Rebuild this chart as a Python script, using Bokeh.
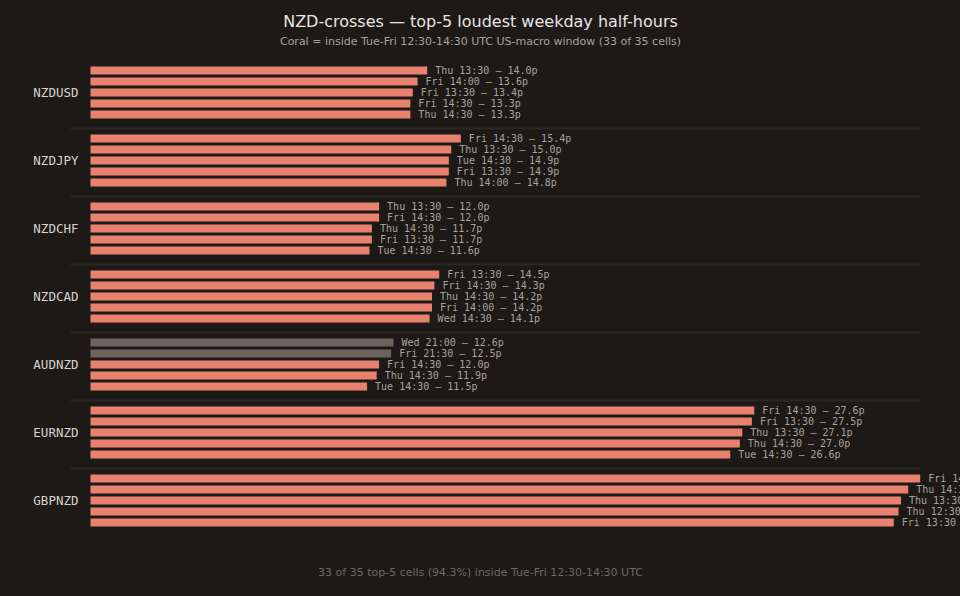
from bokeh.plotting import figure
from bokeh.models import ColumnDataSource, Range1d
from bokeh.core.properties import value
from bokeh.embed import file_html
from bokeh.resources import INLINE

# top-5 loudest weekday half-hours per NZD cross (UTC slot, pips)
pairs = ["NZDUSD", "NZDJPY", "NZDCHF", "NZDCAD", "AUDNZD", "EURNZD", "GBPNZD"]
slots = [
    ["Thu 13:30", "Fri 14:00", "Fri 13:30", "Fri 14:30", "Thu 14:30"],
    ["Fri 14:30", "Thu 13:30", "Tue 14:30", "Fri 13:30", "Thu 14:00"],
    ["Thu 13:30", "Fri 14:30", "Thu 14:30", "Fri 13:30", "Tue 14:30"],
    ["Fri 13:30", "Fri 14:30", "Thu 14:30", "Fri 14:00", "Wed 14:30"],
    ["Wed 21:00", "Fri 21:30", "Fri 14:30", "Thu 14:30", "Tue 14:30"],
    ["Fri 14:30", "Fri 13:30", "Thu 13:30", "Thu 14:30", "Tue 14:30"],
    ["Fri 14:30", "Thu 14:30", "Thu 13:30", "Thu 12:30", "Fri 13:30"],
]
pips = [
    [14.0, 13.6, 13.4, 13.3, 13.3],
    [15.4, 15.0, 14.9, 14.9, 14.8],
    [12.0, 12.0, 11.7, 11.7, 11.6],
    [14.5, 14.3, 14.2, 14.2, 14.1],
    [12.6, 12.5, 12.0, 11.9, 11.5],
    [27.6, 27.5, 27.1, 27.0, 26.6],
    [34.5, 34.0, 33.7, 33.6, 33.4],
]

BG = "#1c1917"
CORAL = "#e8826f"
GREY = "#6c645c"

# layout in page pixels
W, H = 960, 596
PX = 24.05   # pixels per pip
ROW = 68     # pixels per pair group
STEP = 11    # pixels between bars in a group
BAR_H = 8


def xd(page_x):
    return (page_x - 90) / PX


def yd(page_y):
    return (page_y - 92) / ROW


def in_window(slot):
    day, hm = slot.split()
    return day in ("Tue", "Wed", "Thu", "Fri") and "12:30" <= hm <= "14:30"


ys, vals, labels, colors = [], [], [], []
for g, pair in enumerate(pairs):
    for i in range(5):
        ys.append(g + (i - 2) * STEP / ROW)
        vals.append(pips[g][i])
        labels.append(f"{slots[g][i]} — {pips[g][i]:.1f}p")
        colors.append(CORAL if in_window(slots[g][i]) else GREY)
src = ColumnDataSource(data=dict(y=ys, v=vals, lx=[v + 8 / PX for v in vals],
                                 label=labels, color=colors))

n_total = len(vals)
n_in = sum(c == CORAL for c in colors)

p = figure(width=W, height=H, output_backend="svg", toolbar_location=None,
           x_range=Range1d(xd(0), xd(W)), y_range=Range1d(yd(H), yd(0)),
           x_axis_location=None, y_axis_location=None, min_border=0)
p.background_fill_color = BG
p.border_fill_color = BG
p.outline_line_color = None
p.grid.visible = False

# faint separators between pairs
sep_y = [g + 36 / ROW for g in range(len(pairs) - 1)]
p.segment(x0=[xd(70)] * len(sep_y), x1=[max(vals)] * len(sep_y), y0=sep_y, y1=sep_y,
          line_color="#2a2624", line_width=2)

p.hbar(y="y", left=0, right="v", height=BAR_H / ROW, fill_color="color",
       line_color=None, source=src)
p.text(x="lx", y="y", text="label", source=src, text_font=value("DejaVu Sans Mono"),
       text_font_size="10px", text_color="#a8a29e", text_baseline="middle")

p.text(x=[xd(78)] * len(pairs), y=list(range(len(pairs))), text=pairs,
       text_font=value("DejaVu Sans Mono"), text_font_size="12.5px", text_color="#d6d3d1",
       text_align="right", text_baseline="middle")

p.text(x=[xd(480)], y=[yd(21)], text=["NZD-crosses — top-5 loudest weekday half-hours"],
       text_font=value("DejaVu Sans"), text_font_size="16px", text_color="#e7e5e4",
       text_align="center", text_baseline="middle")
p.text(x=[xd(480)], y=[yd(41)],
       text=[f"Coral = inside Tue-Fri 12:30-14:30 UTC US-macro window ({n_in} of {n_total} cells)"],
       text_font=value("DejaVu Sans"), text_font_size="11px", text_color="#a8a29e",
       text_align="center", text_baseline="middle")
p.text(x=[xd(480)], y=[yd(572)],
       text=[f"{n_in} of {n_total} top-5 cells ({100 * n_in / n_total:.1f}%) inside Tue-Fri 12:30-14:30 UTC"],
       text_font=value("DejaVu Sans"), text_font_size="11px", text_color="#6f6862",
       text_align="center", text_baseline="middle")

html = file_html(p, INLINE).replace("<head>", "<head><style>body{background:#1c1917}</style>", 1)
open("out.html", "w").write(html)
